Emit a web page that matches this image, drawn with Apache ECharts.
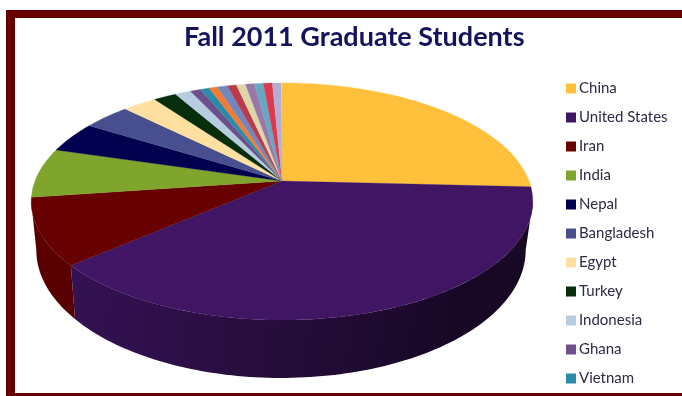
<!DOCTYPE html>
<html>
<head>
<meta charset="utf-8">
<style>html,body{margin:0;padding:0;background:#fff}#chart{width:682px;height:396px}</style>
<script src="https://cdn.jsdelivr.net/npm/echarts@6/dist/echarts.min.js"></script>
</head>
<body>
<div id="chart"></div>
<script>
// Fall 2011 graduate enrolment by home country, share of students in percent.
const countries = ['China','United States','Iran','India','Nepal','Bangladesh','Egypt','Turkey','Indonesia','Ghana','Vietnam',
  'Other 1','Other 2','Other 3','Other 4','Other 5','Other 6','Other 7','Other 8'];
const shares = [25.8,37.9,9.1,6.75,4.25,3.6,2.6,1.75,1.2,0.8,0.67,0.64,0.78,0.7,0.69,0.68,0.68,0.68,0.68];
const legendCountries = countries.slice(0,11);
const colors = ['#FFC13B','#3F1564','#670000','#7FA52C','#00004F','#474F8E','#FFE0A0','#062D0C','#B8CCE0','#6F4E8C','#2A8CA8',
  '#F47B34','#7288BC','#B83A4C','#DDD6A8','#9A77A8','#66A8C4','#DC3A4C','#B4AED4'];

// Perspective disc: upper rim and the lower rim of the pie's thickness.
const upperRim = {x0:282, y0:181, cx:247, ay:115, b:0.173};
const lowerRim = {x0:281, y0:228, cx:241, ay:124, b:0.173};
// Only the part of the side wall between the silhouette points faces the viewer.
const frontStart = Math.acos(-upperRim.b) / (2 * Math.PI) * 100;
const frontEnd = 100 - frontStart;

function project(rim, pct){
  const t = pct / 100 * Math.PI * 2;
  const u = Math.sin(t), v = Math.cos(t);
  const w = 1 + rim.b * v;
  return [rim.x0 + rim.cx * u / w, rim.y0 - rim.ay * v / w];
}
function arc(rim, from, to){
  const n = Math.max(2, Math.ceil((to - from) * 3));
  const pts = [];
  for (let i = 0; i <= n; i++) pts.push(project(rim, from + (to - from) * i / n));
  return pts;
}
function shade(hex, k){
  const n = parseInt(hex.slice(1), 16);
  const c = [n >> 16, (n >> 8) & 255, n & 255].map(function(x){ return Math.round(x * k); });
  return 'rgb(' + c.join(',') + ')';
}

let acc = 0;
const ranges = shares.map(function(s){ const r = [acc, acc + s]; acc += s; return r; });

function renderWall(params, api){
  const from = Math.max(api.value(0), frontStart), to = Math.min(api.value(1), frontEnd);
  if (from >= to) return null;
  const base = colors[params.dataIndex];
  const pts = arc(upperRim, from, to).concat(arc(lowerRim, from, to).reverse());
  return {
    type:'polygon',
    shape:{points:pts},
    style:{
      fill:new echarts.graphic.LinearGradient(40,250,530,300,[
        {offset:0,color:shade(base,0.88)},
        {offset:0.35,color:shade(base,0.68)},
        {offset:0.65,color:shade(base,0.5)},
        {offset:0.85,color:shade(base,0.38)},
        {offset:1,color:shade(base,0.36)}
      ],true)
    }
  };
}
function renderFace(params, api){
  const from = api.value(0), to = api.value(1);
  const pts = [[upperRim.x0, upperRim.y0]].concat(arc(upperRim, from, to));
  return {
    type:'polygon',
    shape:{points:pts},
    style:{fill:api.visual('color'), stroke:api.visual('color'), lineWidth:0.3}
  };
}

const series = [{
  type:'custom', name:'wall', coordinateSystem:'none', silent:true, z:1,
  renderItem:renderWall, data:ranges, animation:false
}];
countries.forEach(function(name, i){
  series.push({
    type:'custom', name:name, coordinateSystem:'none', z:2,
    itemStyle:{color:colors[i]},
    renderItem:renderFace, data:[ranges[i]], animation:false
  });
});

const chart = echarts.init(document.getElementById('chart'), null, {renderer:'canvas'});
chart.setOption({
  animation:false,
  backgroundColor:'#fff',
  title:{
    text:'Fall 2011 Graduate Students', left:179, top:19,
    textStyle:{fontFamily:'Lato',fontWeight:'bold',fontSize:27,color:'#14145E'}
  },
  legend:{
    data:legendCountries, orient:'vertical', left:561, top:75,
    icon:'rect', itemWidth:10, itemHeight:10, itemGap:12,
    selectedMode:false,
    textStyle:{fontFamily:'Lato',fontSize:15,color:'#2E2A45',lineHeight:17,padding:[0,0,0,-2]}
  },
  graphic:[
    {type:'rect',shape:{x:6,y:10,width:676,height:8},style:{fill:'#660000'}},
    {type:'rect',shape:{x:6,y:10,width:9,height:386},style:{fill:'#660000'}},
    {type:'rect',shape:{x:6,y:393,width:676,height:3},style:{fill:'#660000'}}
  ],
  series:series
});
</script>
</body>
</html>
